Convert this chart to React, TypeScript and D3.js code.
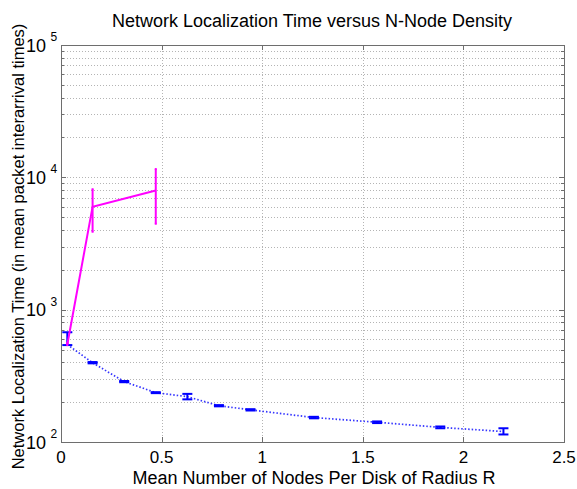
import React from 'react';
import * as d3 from 'd3';

// N-node density (mean nodes per disk of radius R)
const blueX = [0.0314, 0.157, 0.314, 0.471, 0.628, 0.785, 0.942, 1.257, 1.571, 1.885, 2.199];
const blueY = [545, 397, 286, 236, 220, 188, 175, 153, 141, 129, 120];
const blueLo = [540, 393, 283, 234, 210, 186, 173, 151, 139, 127, 114];
const blueHi = [675, 402, 289, 238, 231, 190, 177, 155, 143, 131, 127];

const magX = [0.0314, 0.157, 0.471];
const magY = [545, 6000, 7950];
const magLo = [540, 3880, 4460];
const magHi = [560, 8130, 11550];

const xTicks = [0, 0.5, 1, 1.5, 2, 2.5];
const xTickLabels = ['0', '0.5', '1', '1.5', '2', '2.5'];
const yDecades = [2, 3, 4, 5];

const W = 577;
const H = 489;
const M = { left: 61, right: 564, top: 45, bottom: 442 };
const font = '"Liberation Sans", Arial, Helvetica, sans-serif';

export default function App() {
  const x = d3.scaleLinear().domain([0, 2.5]).range([M.left, M.right]);
  const y = d3.scaleLog().domain([100, 100000]).range([M.bottom, M.top]);

  const minor: number[] = [];
  yDecades.slice(0, 3).forEach((e) => {
    for (let k = 2; k <= 9; k++) minor.push(k * Math.pow(10, e));
  });
  const yGrid = minor.concat([1000, 10000]);
  const py = (v: number) => Math.round(y(v)) + 0.5;

  const line = d3.line<[number, number]>().x((d) => x(d[0])).y((d) => y(d[1]));
  const bluePts = blueX.map((v, i) => [v, blueY[i]] as [number, number]);
  const magPts = magX.map((v, i) => [v, magY[i]] as [number, number]);

  const grid = '#b4b4b4';
  const axisCol = '#6e6e6e';

  return (
    <svg width={W} height={H} style={{ position: 'absolute', left: 0, top: 0, background: '#fff' }} fontFamily={font}>
      <rect x={0} y={0} width={W} height={H} fill="#fff" />
      {/* grid */}
      {xTicks.slice(1, -1).map((t) => (
        <line key={'gx' + t} x1={Math.round(x(t)) + 0.5} x2={Math.round(x(t)) + 0.5} y1={M.top} y2={M.bottom} stroke={grid} strokeWidth={1} strokeDasharray="1,2" />
      ))}
      {yGrid.map((v) => (
        <line key={'gy' + v} x1={M.left} x2={M.right} y1={py(v)} y2={py(v)} stroke={grid} strokeWidth={1} strokeDasharray="1,2" />
      ))}
      {/* axes box */}
      <rect x={M.left + 0.5} y={M.top + 0.5} width={M.right - M.left} height={M.bottom - M.top} fill="none" stroke={axisCol} strokeWidth={1} />
      {/* ticks */}
      {xTicks.map((t) => (
        <g key={'tx' + t}>
          <line x1={Math.round(x(t)) + 0.5} x2={Math.round(x(t)) + 0.5} y1={M.bottom} y2={M.bottom - 5} stroke={axisCol} />
          <line x1={Math.round(x(t)) + 0.5} x2={Math.round(x(t)) + 0.5} y1={M.top} y2={M.top + 5} stroke={axisCol} />
        </g>
      ))}
      {yGrid.map((v) => (
        <g key={'ty' + v}>
          <line x1={M.left} x2={M.left + ([1000, 10000].includes(v) ? 5 : 3)} y1={py(v)} y2={py(v)} stroke={axisCol} />
          <line x1={M.right} x2={M.right - ([1000, 10000].includes(v) ? 5 : 3)} y1={py(v)} y2={py(v)} stroke={axisCol} />
        </g>
      ))}
      {/* x tick labels */}
      {xTicks.map((t, i) => (
        <text key={'lx' + t} x={x(t)} y={463} fontSize={17} textAnchor="middle" fill="#000">
          {xTickLabels[i]}
        </text>
      ))}
      {/* y tick labels */}
      {yDecades.map((e) => (
        <g key={'ly' + e}>
          <text x={46} y={y(Math.pow(10, e)) + 6.5} fontSize={18} textAnchor="end" fill="#000">10</text>
          <text x={50.5} y={y(Math.pow(10, e)) - 4} fontSize={12} fill="#000">{e}</text>
        </g>
      ))}
      {/* blue series */}
      <path d={line(bluePts) || ''} fill="none" stroke="#3535ff" strokeWidth={1.7} strokeDasharray="1.5,2" />
      {blueX.map((v, i) => (
        <g key={'be' + i} stroke="#0000ff" strokeWidth={2}>
          <line x1={x(v)} x2={x(v)} y1={y(blueLo[i])} y2={y(blueHi[i])} />
          <line x1={x(v) - 5} x2={x(v) + 5} y1={y(blueLo[i])} y2={y(blueLo[i])} />
          <line x1={x(v) - 5} x2={x(v) + 5} y1={y(blueHi[i])} y2={y(blueHi[i])} />
        </g>
      ))}
      {/* magenta series */}
      <path d={line(magPts) || ''} fill="none" stroke="#ff00ff" strokeWidth={2} />
      {magX.map((v, i) => (
        <g key={'me' + i} stroke="#ff00ff" strokeWidth={2}>
          <line x1={x(v)} x2={x(v)} y1={y(magLo[i])} y2={y(magHi[i])} />
          <line x1={x(v) - 1} x2={x(v) + 1} y1={y(magLo[i])} y2={y(magLo[i])} />
          <line x1={x(v) - 1} x2={x(v) + 1} y1={y(magHi[i])} y2={y(magHi[i])} />
        </g>
      ))}
      {/* titles */}
      <text x={312} y={27} fontSize={18} textAnchor="middle" fill="#000">
        Network Localization Time versus N-Node Density
      </text>
      <text x={314} y={484} fontSize={18} textAnchor="middle" fill="#000">
        Mean Number of Nodes Per Disk of Radius R
      </text>
      <text transform={`translate(24,${(M.top + M.bottom) / 2 + 3}) rotate(-90)`} fontSize={16.5} textAnchor="middle" fill="#000">
        Network Localization Time (in mean packet interarrival times)
      </text>
    </svg>
  );
}
